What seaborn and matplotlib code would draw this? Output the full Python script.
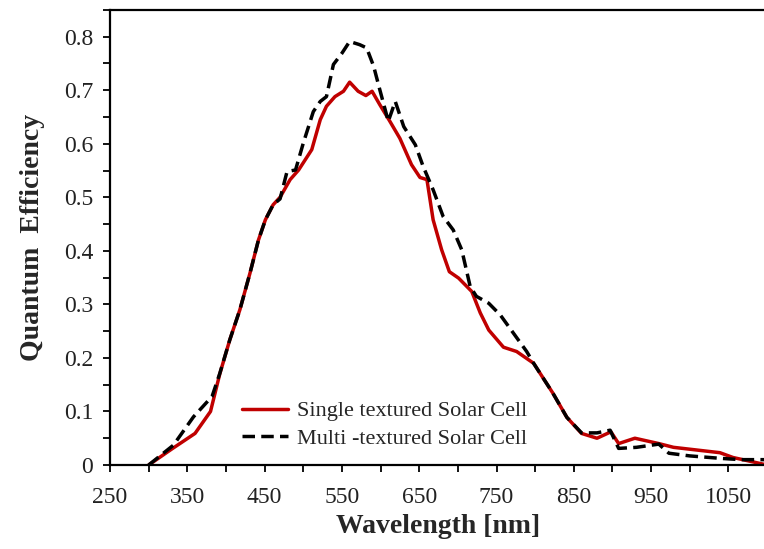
import numpy as np
import pandas as pd
import seaborn as sns
import matplotlib
matplotlib.use('Agg')
import matplotlib.pyplot as plt
from matplotlib.ticker import MultipleLocator, FuncFormatter

# values
single_wl = [300, 330, 360, 380, 392, 405, 418, 431, 442, 451, 461, 470, 483, 494,
             511, 522, 530, 541, 552, 560, 571, 581, 589, 599, 612, 625, 640, 651,
             660, 668, 679, 689, 701, 718, 729, 740, 759, 776, 798, 823, 841, 860,
             880, 898, 908, 929, 960, 979, 1039, 1056, 1100]
single_qe = [0.0, 0.03, 0.059, 0.10, 0.17, 0.234, 0.29, 0.358, 0.42, 0.458, 0.486, 0.50,
             0.533, 0.551, 0.589, 0.645, 0.67, 0.688, 0.698, 0.715, 0.698, 0.69, 0.698,
             0.673, 0.642, 0.61, 0.561, 0.537, 0.533, 0.458, 0.402, 0.361, 0.349, 0.324,
             0.284, 0.252, 0.22, 0.212, 0.19, 0.134, 0.089, 0.059, 0.05, 0.062, 0.04,
             0.05, 0.04, 0.033, 0.023, 0.014, 0.0]

multi_wl = [300, 332, 358, 382, 392, 405, 418, 431, 442, 451, 461, 470, 479, 490,
            500, 513, 522, 530, 539, 550, 560, 573, 582, 591, 599, 610, 619, 630,
            645, 655, 668, 681, 694, 705, 716, 724, 740, 755, 772, 789, 798, 823,
            841, 860, 880, 897, 908, 931, 960, 973, 1000, 1039, 1066, 1100]
multi_qe = [0.0, 0.037, 0.09, 0.128, 0.171, 0.234, 0.29, 0.358, 0.42, 0.458, 0.486, 0.497,
            0.548, 0.551, 0.601, 0.66, 0.679, 0.688, 0.748, 0.769, 0.791, 0.785, 0.779,
            0.745, 0.701, 0.642, 0.679, 0.632, 0.598, 0.558, 0.514, 0.464, 0.439, 0.402,
            0.333, 0.315, 0.302, 0.28, 0.246, 0.212, 0.19, 0.134, 0.089, 0.06, 0.06,
            0.065, 0.031, 0.033, 0.039, 0.022, 0.017, 0.0125, 0.01, 0.01]

labels = ['Single textured Solar Cell', 'Multi -textured Solar Cell']

df = pd.concat([
    pd.DataFrame({'wl': single_wl, 'qe': single_qe, 'cell': labels[0]}),
    pd.DataFrame({'wl': multi_wl, 'qe': multi_qe, 'cell': labels[1]}),
])

sns.set_style('white')
plt.rcParams['font.family'] = ['Liberation Serif', 'DejaVu Serif']

fig = plt.figure(figsize=(7.64, 5.49), dpi=100)
ax = fig.add_axes([0.144, 0.153, 0.86, 0.829])

sns.lineplot(data=df, x='wl', y='qe', hue='cell', style='cell',
             palette={labels[0]: '#C00000', labels[1]: 'black'},
             dashes={labels[0]: '', labels[1]: (3.6, 1.8)},
             estimator=None, sort=False, linewidth=2.5, ax=ax)

ax.set_xlim(250, 1100)
ax.set_ylim(0, 0.85)
ax.xaxis.set_minor_locator(MultipleLocator(50))
ax.yaxis.set_major_locator(MultipleLocator(0.1))
ax.yaxis.set_minor_locator(MultipleLocator(0.05))
ax.set_xticks(np.arange(250, 1100, 100))
ax.yaxis.set_major_formatter(FuncFormatter(lambda v, p: '0' if abs(v) < 1e-9 else f'{v:.1f}'))
ax.tick_params(which='both', direction='out', length=5, width=1.3, color='black',
               bottom=True, left=True)
ax.tick_params(which='major', labelsize=17, pad=7, labelcolor='#222222')
ax.tick_params(axis='x', which='major', pad=11)

for side in ['left', 'bottom', 'top']:
    ax.spines[side].set_color('black')
    ax.spines[side].set_linewidth(1.6)
ax.spines['right'].set_visible(False)

ax.set_xlabel('Wavelength [nm]', fontsize=20, fontweight='bold', labelpad=4)
ax.set_ylabel('Quantum  Efficiency', fontsize=20, fontweight='bold', labelpad=14)

ax.legend(frameon=False, loc='upper left', bbox_to_anchor=(0.17, 0.185),
          fontsize=16, handlelength=2.1, handletextpad=0.4, labelspacing=0.3)

fig.savefig('out.png', dpi=100)
